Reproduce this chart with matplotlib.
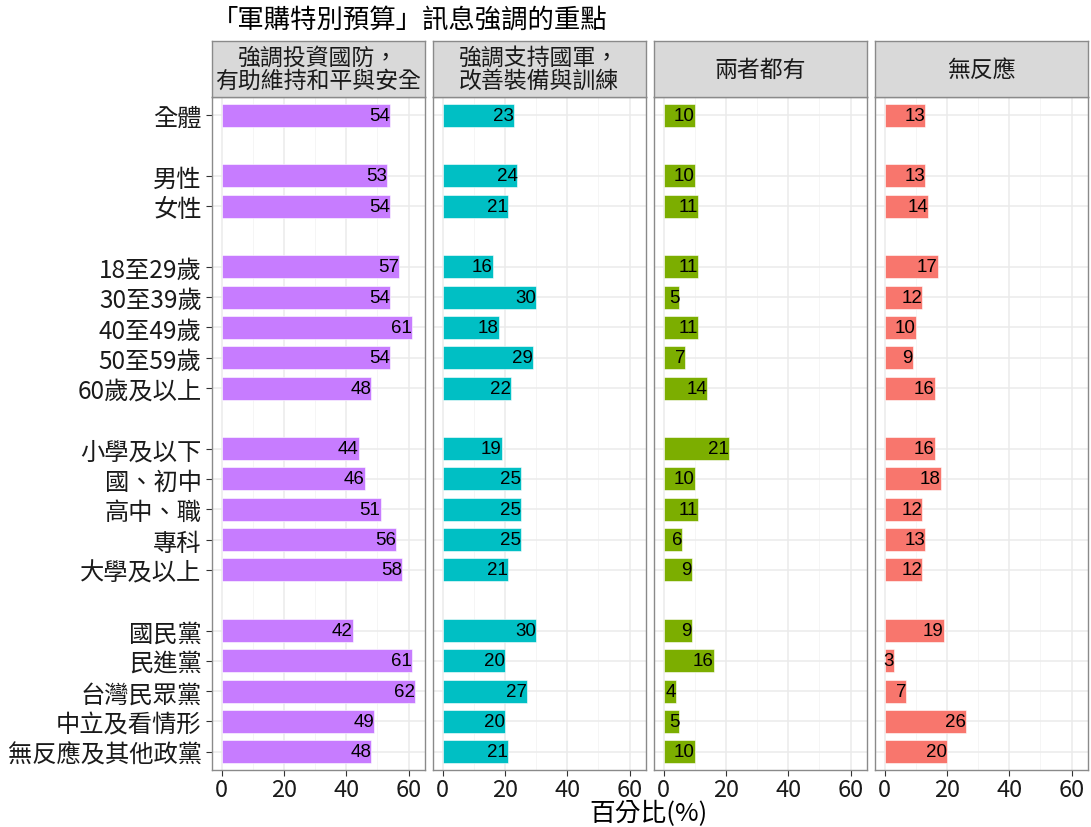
import matplotlib
matplotlib.use("Agg")
import matplotlib.pyplot as plt
from matplotlib.ticker import MultipleLocator

plt.rcParams['font.family'] = ['Noto Sans CJK TC', 'DejaVu Sans']

title = "「軍購特別預算」訊息強調的重點"
xlabel = "百分比(%)"
panels = ["強調投資國防，\n有助維持和平與安全", "強調支持國軍，\n改善裝備與訓練", "兩者都有", "無反應"]
colors = ["#C77CFF", "#00BFC4", "#7CAE00", "#F8766D"]

# row labels; None marks a blank separator row
rows = ["全體", None, "男性", "女性", None,
        "18至29歲", "30至39歲", "40至49歲", "50至59歲", "60歲及以上", None,
        "小學及以下", "國、初中", "高中、職", "專科", "大學及以上", None,
        "國民黨", "民進黨", "台灣民眾黨", "中立及看情形", "無反應及其他政黨"]

v_defense = [54, 53, 54, 57, 54, 61, 54, 48, 44, 46, 51, 56, 58, 42, 61, 62, 49, 48]
v_support = [23, 24, 21, 16, 30, 18, 29, 22, 19, 25, 25, 25, 21, 30, 20, 27, 20, 21]
v_both    = [10, 10, 11, 11, 5, 11, 7, 14, 21, 10, 11, 6, 9, 9, 16, 4, 5, 10]
v_none    = [13, 13, 14, 17, 12, 10, 9, 16, 16, 18, 12, 13, 12, 19, 3, 7, 26, 20]
values = [v_defense, v_support, v_both, v_none]

ypos = [i for i, r in enumerate(rows) if r is not None]
ylabels = [r for r in rows if r is not None]

W, H = 1091, 828
fig = plt.figure(figsize=(W / 100, H / 100), dpi=100)

x0s = [212, 433, 654, 875]
pw = 212.5
ptop, pbot = 98, 771
stop = 42

border = "#8a8a8a"
for k in range(4):
    ax = fig.add_axes([x0s[k] / W, 1 - pbot / H, pw / W, (pbot - ptop) / H])
    ax.set_xlim(-3.1, 65.1)
    ax.set_ylim(len(rows) - 1 + 0.6, -0.6)
    ax.xaxis.set_major_locator(MultipleLocator(20))
    ax.xaxis.set_minor_locator(MultipleLocator(10))
    ax.grid(which='major', color='#EBEBEB', lw=1.1, zorder=0)
    ax.grid(which='minor', axis='x', color='#F4F4F4', lw=0.6, zorder=0)
    ax.set_axisbelow(True)
    ax.barh(ypos, values[k], height=0.76, color=colors[k],
            edgecolor='white', linewidth=0.4, zorder=2)
    for y, v in zip(ypos, values[k]):
        ax.text(v, y, str(v), ha='right', va='center', fontsize=13.5,
                family=['Liberation Sans', 'DejaVu Sans'], color='black', zorder=3)
    ax.set_yticks(ypos)
    ax.tick_params(axis='both', which='major', color='#333333', length=4, width=0.8)
    ax.tick_params(axis='x', which='minor', length=0)
    ax.tick_params(axis='x', labelsize=17, labelcolor='#1a1a1a', pad=2)
    if k == 0:
        ax.set_yticklabels(ylabels, fontsize=17.5, color='#1a1a1a')
    else:
        ax.set_yticklabels([])
        ax.tick_params(axis='y', length=0)
    for s in ax.spines.values():
        s.set_color(border)
        s.set_linewidth(1.0)
    # strip
    sax = fig.add_axes([x0s[k] / W, 1 - ptop / H, pw / W, (ptop - stop) / H])
    sax.set_facecolor('#D9D9D9')
    sax.set_xticks([]); sax.set_yticks([])
    for s in sax.spines.values():
        s.set_color(border)
        s.set_linewidth(1.0)
    sax.text(0.5, 0.5, panels[k], ha='center', va='center', fontsize=16.5,
             color='#1a1a1a', linespacing=1.0, transform=sax.transAxes)

fig.text(212 / W, 1 - 20 / H, title, ha='left', va='center', fontsize=19, color='black')
fig.text(648 / W, 1 - 814 / H, xlabel, ha='center', va='center', fontsize=18.5, color='black')

fig.savefig("out.png", dpi=100, facecolor='white')
